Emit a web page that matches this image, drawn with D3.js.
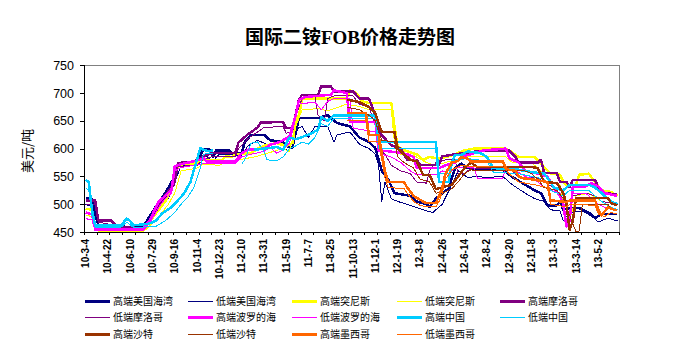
<!DOCTYPE html>
<html><head><meta charset="utf-8">
<script src="https://cdn.jsdelivr.net/npm/d3@7"></script>
<style>body{margin:0;background:#fff}svg{display:block}</style>
</head><body><svg id="c" width="696" height="353"></svg>
<script>
const title = "国际二铵FOB价格走势图";
const yLabel = "美元/吨";
const weekCount = 168;
const tickLabels = ["10-3-4","10-4-22","10-6-10","10-7-29","10-9-16","10-11-4","10-12-23","11-2-10","11-3-31","11-5-19","11-7-7","11-8-25","11-10-13","11-12-1","12-1-19","12-3-8","12-4-26","12-6-14","12-8-2","12-9-20","12-11-8","13-1-3","13-3-14","13-5-2"];
const yTicks = [450,500,550,600,650,700,750];
const seriesNames = ["高端美国海湾","低端美国海湾","高端突尼斯","低端突尼斯","高端摩洛哥","低端摩洛哥","高端波罗的海","低端波罗的海","高端中国","低端中国","高端沙特","低端沙特","高端墨西哥","低端墨西哥"];

// [week index, price]
const usHigh = [[0,510],[2,510],[4,462],[10,460],[18,458],[20,477],[22,495],[25,520],[28,550],[29,574],[35,575],[37,599],[39,598],[40,585],[41,597],[45,597],[46,592],[49,592],[50,612],[52,625],[56,625],[58,615],[62,612],[64,602],[65,602],[67,655],[73,655],[76,660],[79,646],[83,640],[86,620],[89,612],[91,601],[93,560],[95,545],[97,520],[102,515],[104,505],[107,500],[108,495],[110,510],[112,520],[114,528],[116,565],[118,573],[120,565],[123,562],[131,562],[134,549],[138,535],[141,525],[143,520],[145,498],[148,498],[149,505],[150,490],[152,493],[155,493],[158,485],[160,475],[162,482],[167,482]];
const usLow = [[0,500],[2,495],[4,458],[18,455],[20,470],[23,490],[26,510],[28,540],[30,570],[35,570],[37,590],[40,578],[42,590],[49,588],[51,605],[54,615],[58,605],[62,600],[64,596],[66,635],[68,640],[70,620],[72,640],[76,640],[78,612],[79,625],[83,630],[86,608],[89,600],[91,590],[92,570],[93,505],[94,540],[96,510],[98,505],[102,498],[106,490],[109,485],[112,500],[115,535],[117,560],[120,548],[123,550],[126,548],[131,550],[134,535],[138,520],[141,510],[144,505],[146,490],[149,488],[150,470],[152,485],[156,488],[159,478],[161,468],[164,475],[167,470]];
const tunHigh = [[0,492],[2,490],[3,459],[4,453],[18,453],[20,468],[23,490],[25,505],[27,526],[29,568],[31,573],[35,573],[36,580],[43,580],[44,586],[46,585],[47,590],[52,592],[54,600],[56,605],[60,610],[63,605],[65,610],[66,650],[67,660],[68,690],[82,690],[83,705],[85,700],[87,685],[89,682],[96,682],[97,640],[98,603],[101,595],[104,590],[106,580],[108,585],[111,582],[114,586],[116,590],[119,597],[122,600],[132,600],[133,597],[136,585],[141,585],[142,579],[144,567],[146,555],[149,553],[150,540],[151,535],[154,535],[155,553],[158,555],[160,540],[162,525],[165,522],[167,515]];
const tunLow = [[0,480],[2,478],[3,455],[18,450],[20,460],[23,478],[26,500],[28,520],[30,560],[35,565],[37,572],[42,570],[44,575],[48,580],[53,585],[56,590],[62,600],[64,595],[66,640],[68,670],[73,672],[76,668],[82,680],[86,676],[89,670],[96,670],[97,610],[99,590],[103,588],[107,575],[110,570],[113,575],[116,580],[119,585],[132,585],[134,575],[140,575],[143,560],[146,540],[149,535],[150,500],[151,462],[152,470],[154,515],[158,520],[162,505],[167,500]];
const morHigh = [[0,507],[3,507],[4,471],[8,471],[9,465],[10,459],[18,457],[19,460],[22,489],[25,517],[26,523],[28,540],[29,574],[34,577],[36,583],[38,589],[40,592],[47,592],[48,611],[51,626],[54,638],[55,647],[62,648],[63,637],[65,637],[67,688],[68,697],[73,697],[74,712],[77,712],[78,703],[84,703],[86,690],[89,690],[91,660],[92,630],[96,606],[99,600],[101,580],[104,580],[105,571],[111,571],[112,586],[114,588],[120,593],[126,597],[133,597],[135,585],[136,575],[142,575],[143,580],[144,556],[148,556],[149,540],[151,540],[152,531],[153,544],[160,544],[161,530],[162,520],[167,518]];
const morLow = [[0,500],[3,500],[4,468],[9,462],[10,456],[18,454],[19,458],[22,485],[25,512],[28,535],[29,568],[35,570],[37,580],[40,586],[47,586],[48,600],[51,618],[54,630],[56,638],[62,640],[63,628],[65,630],[66,660],[68,690],[72,695],[73,660],[75,650],[76,690],[78,695],[84,695],[86,680],[89,675],[91,640],[92,600],[94,590],[96,570],[99,560],[102,555],[104,540],[107,538],[108,560],[110,575],[113,580],[116,580],[117,555],[119,555],[121,565],[131,565],[134,560],[136,548],[142,548],[144,540],[147,530],[149,515],[150,500],[151,465],[152,480],[153,515],[157,520],[160,515],[162,505],[167,500]];
const balHigh = [[0,485],[2,482],[3,456],[18,455],[20,470],[23,505],[25,515],[27,526],[28,568],[30,572],[36,580],[37,583],[38,577],[47,577],[49,592],[51,598],[56,600],[58,607],[61,612],[64,622],[66,660],[67,688],[69,693],[77,697],[78,705],[82,700],[83,648],[91,648],[92,597],[97,594],[101,590],[103,585],[104,565],[111,565],[113,570],[116,575],[118,585],[121,590],[125,597],[132,600],[133,583],[136,575],[138,560],[142,555],[145,550],[147,530],[149,515],[150,500],[151,460],[152,470],[153,532],[157,532],[159,538],[161,532],[163,520],[167,515]];
const balLow = [[0,474],[2,472],[3,452],[18,452],[20,465],[23,495],[25,510],[27,520],[28,560],[30,566],[36,572],[38,574],[47,574],[49,585],[52,590],[56,595],[58,602],[60,592],[62,598],[64,610],[66,655],[67,680],[72,684],[74,670],[76,685],[78,690],[83,690],[84,637],[91,630],[93,590],[96,585],[99,575],[102,560],[104,553],[110,553],[112,560],[114,555],[116,565],[120,567],[122,565],[123,547],[131,547],[132,565],[134,565],[138,550],[141,545],[143,535],[146,525],[149,520],[150,500],[151,458],[152,468],[153,520],[157,520],[159,510],[161,500],[164,492],[167,490]];
const chnHigh = [[0,544],[1,540],[2,490],[3,462],[11,462],[13,474],[14,470],[15,462],[20,465],[22,470],[24,483],[27,495],[29,507],[31,520],[33,541],[34,562],[35,580],[36,601],[37,598],[39,595],[40,597],[41,null],[52,null],[53,598],[56,600],[60,603],[62,598],[64,620],[66,617],[70,625],[73,634],[74,657],[76,650],[78,660],[91,660],[92,612],[110,612],[111,540],[114,540],[115,575],[116,589],[118,589],[120,595],[124,592],[126,585],[128,565],[136,562],[140,558],[144,555],[146,540],[147,530],[150,525],[152,535],[158,535],[160,530],[162,520],[165,505],[167,500]];
const chnLow = [[0,530],[1,525],[2,480],[3,458],[11,458],[13,468],[15,458],[22,460],[25,470],[28,485],[30,500],[32,512],[34,530],[35,548],[36,565],[37,590],[40,592],[41,null],[48,null],[49,572],[50,580],[52,610],[54,612],[56,595],[57,580],[60,578],[62,585],[64,600],[66,605],[68,612],[70,608],[72,620],[74,645],[76,640],[78,655],[91,655],[92,600],[110,600],[111,555],[114,555],[115,570],[116,580],[120,582],[126,578],[128,558],[136,555],[140,550],[144,545],[146,525],[150,515],[152,525],[158,525],[160,515],[162,505],[165,495],[167,490]];
const sauHigh = [[82,688],[86,684],[89,675],[91,664],[92,645],[93,630],[97,630],[98,600],[100,590],[102,580],[104,577],[106,553],[108,553],[109,540],[110,527],[113,532],[115,535],[117,550],[119,565],[121,575],[123,567],[140,567],[142,565],[143,552],[144,540],[148,538],[150,520],[151,500],[152,454],[153,470],[154,511],[164,511],[165,502],[167,498]];
const sauLow = [[82,675],[86,670],[89,660],[91,650],[92,630],[93,615],[97,612],[98,585],[100,575],[103,565],[105,545],[108,540],[110,520],[113,522],[115,528],[117,540],[119,555],[121,562],[123,560],[138,560],[140,555],[142,545],[144,530],[148,525],[150,510],[152,480],[154,450],[155,452],[156,500],[164,500],[165,492],[167,490]];
const mexHigh = [[82,664],[88,664],[89,625],[92,625],[93,592],[94,560],[95,540],[100,540],[101,530],[103,515],[105,508],[107,502],[110,502],[111,515],[112,530],[113,555],[115,575],[117,578],[118,585],[120,582],[121,577],[131,577],[132,565],[133,562],[135,560],[136,550],[137,547],[141,544],[145,540],[146,507],[151,504],[152,507],[160,507],[161,490],[162,480],[164,494],[166,490],[167,490]];
const mexLow = [[82,650],[88,650],[89,612],[92,612],[93,580],[94,548],[95,530],[100,528],[101,520],[103,505],[105,498],[107,495],[110,495],[111,505],[112,520],[113,545],[115,562],[118,570],[121,568],[131,568],[133,555],[136,540],[141,535],[145,530],[146,500],[151,495],[152,500],[160,498],[161,482],[163,478],[165,485],[167,482]];

const seriesValues = [usHigh, usLow, tunHigh, tunLow, morHigh, morLow, balHigh, balLow, chnHigh, chnLow, sauHigh, sauLow, mexHigh, mexLow];
const seriesColors = ["#000080","#000080","#FFFF00","#FFFF00","#800080","#800080","#FF00FF","#FF00FF","#00CCFF","#00CCFF","#993300","#993300","#FF6600","#FF6600"];
const seriesWidths = [2.5,1,2.5,1,2.5,1,2.5,1,2.5,1,2.5,1,2.5,1];

const svg = d3.select("#c");
svg.append("rect").attr("width",696).attr("height",353).attr("fill","#fff");

const L = 84, R = 619, T = 65.3, B = 232;
const x = d3.scaleLinear().domain([-0.5, weekCount - 0.5]).range([L, R]);
const y = d3.scaleLinear().domain([450, 750]).range([B, T]);

// title
svg.append("text").attr("x", 350).attr("y", 44).attr("text-anchor","middle")
  .attr("font-family","'Liberation Serif','Noto Sans CJK SC',serif").attr("font-weight","bold")
  .attr("font-size", 19).attr("fill","#000").text(title);

// y label
svg.append("text").attr("transform","translate(27,151) rotate(-90)").attr("text-anchor","middle")
  .attr("dy","0.35em").attr("font-family","'Noto Sans CJK SC',sans-serif").attr("font-size",13).text(yLabel);

// clip
svg.append("clipPath").attr("id","clip").append("rect").attr("x",L).attr("y",T).attr("width",R-L).attr("height",B-T+1);

// borders
svg.append("line").attr("x1",L).attr("x2",R).attr("y1",T).attr("y2",T).attr("stroke","#808080").attr("shape-rendering","crispEdges");
svg.append("line").attr("x1",R).attr("x2",R).attr("y1",T).attr("y2",B).attr("stroke","#808080").attr("shape-rendering","crispEdges");

// lines
const line = d3.line().defined(d => d[1] !== null).x(d => x(d[0])).y(d => y(d[1]));
const g = svg.append("g").attr("clip-path","url(#clip)");
seriesValues.forEach((s, k) => {
  g.append("path").attr("d", line(s)).attr("fill","none")
    .attr("stroke", seriesColors[k]).attr("stroke-width", seriesWidths[k])
    .attr("stroke-linejoin","round").attr("shape-rendering","crispEdges");
});

// y axis
const yAxis = d3.axisLeft(y).tickValues(yTicks).tickSize(4).tickPadding(6);
const ya = svg.append("g").attr("transform",`translate(${L},0)`).call(yAxis);
ya.selectAll("text").attr("font-family","'Liberation Sans',Arial,sans-serif").attr("font-size",12.5).attr("fill","#000");
ya.selectAll("line,path").attr("stroke","#000").attr("shape-rendering","crispEdges");

// x axis
const tickPos = d3.range(0, weekCount + 1, 4).map(k => k - 0.5);
const xAxis = d3.axisBottom(x).tickValues(tickPos).tickSize(3).tickFormat("");
const xa = svg.append("g").attr("transform",`translate(0,${B})`).call(xAxis);
xa.selectAll("line,path").attr("stroke","#000").attr("shape-rendering","crispEdges");
xa.select(".domain").attr("d", `M${L},0.5H${R}`);

svg.append("g").selectAll("text").data(tickLabels).join("text")
  .attr("transform",(d,i) => `translate(${x(i*7)},239) rotate(-90)`)
  .attr("text-anchor","end").attr("dy","0.35em")
  .attr("font-family","'Liberation Sans',Arial,sans-serif").attr("font-weight","bold").attr("font-size",10)
  .text(d => d);

// legend
const colX = [85, 188, 292, 397, 500];
const rowY = [301, 317.5, 334];
const lg = svg.append("g");
seriesNames.forEach((name, k) => {
  const cx = colX[k % 5], cy = rowY[Math.floor(k / 5)];
  lg.append("line").attr("x1",cx).attr("x2",cx+25).attr("y1",cy).attr("y2",cy)
    .attr("stroke",seriesColors[k]).attr("stroke-width",seriesWidths[k] > 1 ? 3 : 1)
    .attr("shape-rendering","crispEdges");
  lg.append("text").attr("x",cx+28).attr("y",cy).attr("dy","0.35em")
    .attr("font-family","'Noto Sans CJK SC',sans-serif").attr("font-size",10).text(name);
});
</script></body></html>
